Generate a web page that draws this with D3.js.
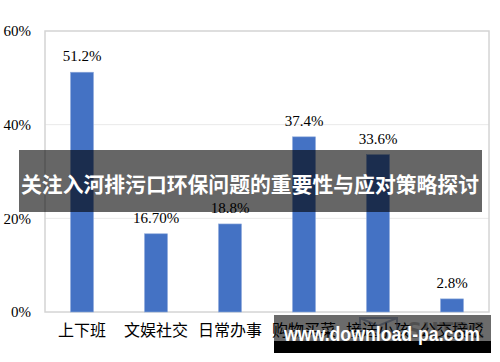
<!DOCTYPE html>
<html>
<head>
<meta charset="utf-8">
<script src="https://cdn.jsdelivr.net/npm/d3@7"></script>
<style>
  body { margin: 0; background: #fff; }
  svg { display: block; }
</style>
</head>
<body>
<div id="chart"></div>
<script>
// data
var categories = ["上下班", "文娱社交", "日常办事", "购物买菜", "接送小孩", "公交接驳"];
var values = [51.2, 16.7, 18.8, 37.4, 33.6, 2.8];
var valueLabels = ["51.2%", "16.70%", "18.8%", "37.4%", "33.6%", "2.8%"];
var yTicks = [0, 20, 40, 60];
var bannerTitle = "关注入河排污口环保问题的重要性与应对策略探讨";
var watermarkText = "www.download-pa.com";

var W = 500, H = 362;
var margin = {top: 31, right: 11, bottom: 50, left: 45},
    width = W - margin.left - margin.right,
    height = H - margin.top - margin.bottom;

var svg = d3.select("#chart")
  .append("svg")
    .attr("width", W)
    .attr("height", H);

var g = svg.append("g")
    .attr("transform", "translate(" + margin.left + "," + margin.top + ")");

// scales
var x = d3.scaleBand()
  .domain(categories)
  .range([0, width])
  .paddingInner(0.69)
  .paddingOuter(0.345);

var y = d3.scaleLinear()
  .domain([0, 60])
  .range([height, 0]);

// gridlines
g.append("g")
  .selectAll("line")
  .data(yTicks.filter(function(d){ return d > 0 && d < 60; }))
  .enter()
  .append("line")
    .attr("x1", 0)
    .attr("x2", width)
    .attr("y1", function(d){ return y(d); })
    .attr("y2", function(d){ return y(d); })
    .attr("stroke", "#e9e9e9")
    .attr("stroke-width", 1);

// frame
g.append("rect")
  .attr("x", 0)
  .attr("y", 0)
  .attr("width", width)
  .attr("height", height)
  .attr("fill", "none")
  .attr("stroke", "#d4d4d4")
  .attr("stroke-width", 1.5);

// y axis labels
var yAxis = g.append("g")
  .call(d3.axisLeft(y)
    .tickValues(yTicks)
    .tickSize(0)
    .tickPadding(14)
    .tickFormat(function(d){ return d + "%"; }));
yAxis.select(".domain").remove();
yAxis.selectAll("text")
  .style("font-family", "'Liberation Serif', 'Times New Roman', serif")
  .style("font-size", "15px")
  .attr("fill", "#000");

// x axis labels
var xAxis = g.append("g")
  .attr("transform", "translate(0," + height + ")")
  .call(d3.axisBottom(x).tickSize(0).tickPadding(13));
xAxis.select(".domain").remove();
xAxis.selectAll("text")
  .style("font-family", "'Noto Sans CJK SC', sans-serif")
  .style("font-size", "16px")
  .attr("fill", "#000");

// bars
g.append("g")
  .selectAll("rect")
  .data(values)
  .enter()
  .append("rect")
    .attr("x", function(d, i){ return x(categories[i]); })
    .attr("y", function(d){ return y(d); })
    .attr("width", x.bandwidth())
    .attr("height", function(d){ return height - y(d); })
    .attr("fill", "#4472c4")
    .attr("stroke", "#8eaadb")
    .attr("stroke-width", 0.6);

// value labels
g.append("g")
  .selectAll("text")
  .data(values)
  .enter()
  .append("text")
    .attr("x", function(d, i){ return x(categories[i]) + x.bandwidth() / 2; })
    .attr("y", function(d){ return y(d) - 11; })
    .attr("text-anchor", "middle")
    .style("font-family", "'Liberation Serif', 'Times New Roman', serif")
    .style("font-size", "15px")
    .attr("fill", "#000")
    .text(function(d, i){ return valueLabels[i]; });

// title banner overlay
svg.append("rect")
  .attr("x", 19)
  .attr("y", 150)
  .attr("width", 463)
  .attr("height", 62)
  .attr("fill", "rgba(0,0,0,0.6)");

svg.append("text")
  .attr("x", 250)
  .attr("y", 192)
  .attr("text-anchor", "middle")
  .attr("textLength", 458)
  .attr("lengthAdjust", "spacingAndGlyphs")
  .style("font-family", "'Noto Sans CJK SC', sans-serif")
  .style("font-size", "21px")
  .style("font-weight", "bold")
  .attr("fill", "#fff")
  .text(bannerTitle);

// watermark box
svg.append("rect")
  .attr("x", 274)
  .attr("y", 315)
  .attr("width", 217)
  .attr("height", 26)
  .attr("fill", "rgba(0,0,0,0.58)");
svg.append("rect")
  .attr("x", 274)
  .attr("y", 341)
  .attr("width", 217)
  .attr("height", 12)
  .attr("fill", "#000");

// faint logo inside the watermark
svg.append("path")
  .attr("d", "M360,318 L397,318 L397,331 L360,331 Z M360,318 L378,326 L397,318")
  .attr("fill", "none")
  .attr("stroke", "rgba(40,50,70,0.5)")
  .attr("stroke-width", 2);
svg.append("text")
  .attr("x", 407)
  .attr("y", 338)
  .style("font-family", "'DejaVu Sans', sans-serif")
  .style("font-size", "21px")
  .style("font-weight", "bold")
  .attr("fill", "rgba(30,30,30,0.35)")
  .text("SUTPC");

svg.append("text")
  .attr("x", 382)
  .attr("y", 341)
  .attr("text-anchor", "middle")
  .attr("textLength", 196)
  .attr("lengthAdjust", "spacingAndGlyphs")
  .style("font-family", "'Liberation Sans', Arial, sans-serif")
  .style("font-size", "20px")
  .style("font-weight", "bold")
  .attr("fill", "#fff")
  .text(watermarkText);
</script>
</body>
</html>
